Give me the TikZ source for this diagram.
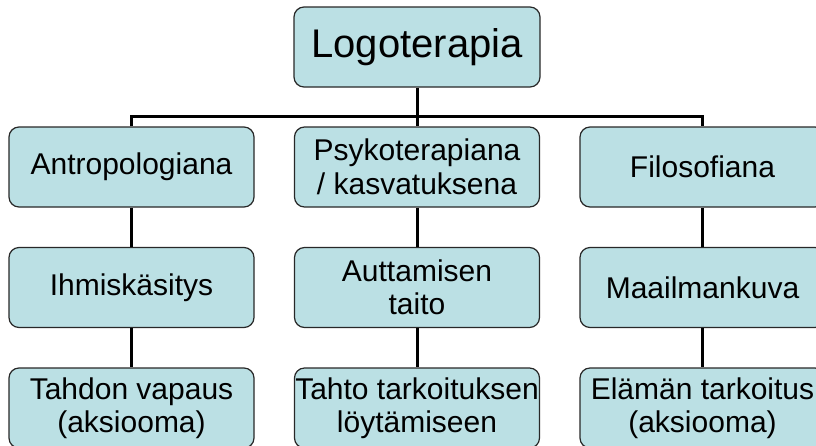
\documentclass[tikz,border=0pt]{standalone}
\usepackage{fontspec}
\setmainfont{Liberation Sans}
\definecolor{boxfill}{RGB}{187,224,228}
\definecolor{boxline}{RGB}{40,40,40}
\tikzset{
  orgbox/.style={rectangle, rounded corners=10pt, draw=boxline, line width=1.2pt,
    fill=boxfill, minimum width=245pt, minimum height=80pt, inner sep=0pt,
    align=center, font=\fontsize{30}{33.5}\selectfont},
  rootbox/.style={orgbox, minimum width=246pt, font=\fontsize{40}{46}\selectfont},
  link/.style={line width=3pt, draw=black}
}
\begin{document}
\begin{tikzpicture}[x=1pt, y=-1pt]
\useasboundingbox (0,0) rectangle (816,445);
\clip (0,0) rectangle (816,445);

% junction line of the first level
\coordinate (bus) at (417,116);

% root
\node[rootbox] (root) at (417,47) {Logoterapia};

% second level
\node[orgbox] (a1) at (131.5,167) {Antropologiana};
\node[orgbox] (b1) at (417,167) {Psykoterapiana\\/ kasvatuksena};
\node[orgbox] (c1) at (702.5,167) {Filosofiana};

% third level
\node[orgbox] (a2) at (131.5,287.5) {Ihmiskäsitys};
\node[orgbox] (b2) at (417,287.5) {Auttamisen\\taito};
\node[orgbox] (c2) at (702.5,287.5) {Maailmankuva};

% fourth level
\node[orgbox] (a3) at (131.5,408) {Tahdon vapaus\\(aksiooma)};
\node[orgbox] (b3) at (417,408) {Tahto tarkoituksen\\löytämiseen};
\node[orgbox] (c3) at (702.5,408) {Elämän tarkoitus\\(aksiooma)};

% connectors
\draw[link] (root.south) -- (b1.north);
\draw[link] (a1.north) -- (a1.north |- bus) -- (c1.north |- bus) -- (c1.north);
\draw[link] (a1.south) -- (a2.north);
\draw[link] (a2.south) -- (a3.north);
\draw[link] (b1.south) -- (b2.north);
\draw[link] (b2.south) -- (b3.north);
\draw[link] (c1.south) -- (c2.north);
\draw[link] (c2.south) -- (c3.north);
\end{tikzpicture}
\end{document}
